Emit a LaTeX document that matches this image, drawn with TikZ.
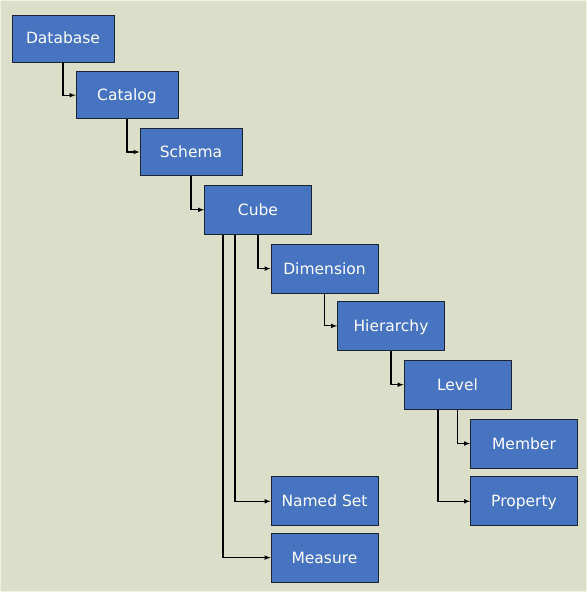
\documentclass[tikz,border=0pt]{standalone}
\usepackage{fontspec}
\setmainfont{DejaVu Sans}
\usetikzlibrary{arrows,matrix}

\definecolor{bgcol}{RGB}{219,223,201}
\definecolor{boxcol}{RGB}{70,116,192}
\definecolor{rimcol}{RGB}{28,36,50}

\begin{document}
\begin{tikzpicture}[x=1pt,y=-1pt,line width=1.1pt]
\fill[bgcol] (0,0) rectangle (587,592);
\draw[line width=1pt,white!55!bgcol] (0.5,0.5) rectangle (586.5,591.5);
\useasboundingbox (0,0) rectangle (587,592);
\matrix (m) at (294.75,298.5) [matrix of nodes, column sep=-41.3pt,row sep=9pt, nodes={draw=rimcol, line width=0.8pt, fill=boxcol, text=white, anchor=center, minimum width=107pt, minimum height=49pt, text height=11pt, text depth=0pt, font=\fontsize{15.5}{18}\selectfont},
 column 1/.style={nodes={minimum width=102pt,minimum height=47pt}},
 column 2/.style={nodes={minimum width=102pt,minimum height=47pt}},
 column 3/.style={nodes={minimum width=102pt,minimum height=47pt}} ]{
Database \\
&[2.5pt] Catalog \\
&[2.5pt] &[2.5pt] Schema \\
&[2.5pt] &[2.5pt] &[3pt] Cube \\
 & & & & Dimension \\[-1.5pt]
 & & & & & Hierarchy \\
 & & & & & & Level \\
 & & & & & & & Member \\[-1pt]
 & & & & Named Set & & & Property \\[-2.5pt]
 & & & & Measure & & & \\
};

\draw[-latex] (m-1-1.south) |- (m-2-2.west);
\draw[-latex] (m-2-2.south) |- (m-3-3.west);
\draw[-latex] (m-3-3.south) |- (m-4-4.west);
\draw[-latex] (m-4-4.south) |- (m-5-5.west);
\draw[-latex] ([xshift=-23pt]m-4-4.south) |- (m-9-5.west);
\draw[-latex] ([xshift=-35pt]m-4-4.south) |- (m-10-5.west);
\draw[-latex] (m-5-5.south) |- (m-6-6.west);
\draw[-latex] (m-6-6.south) |- (m-7-7.west);
\draw[-latex] (m-7-7.south) |- (m-8-8.west);
\draw[-latex] ([xshift=-19.5pt]m-7-7.south) |- (m-9-8.west);
\end{tikzpicture}
\end{document}
